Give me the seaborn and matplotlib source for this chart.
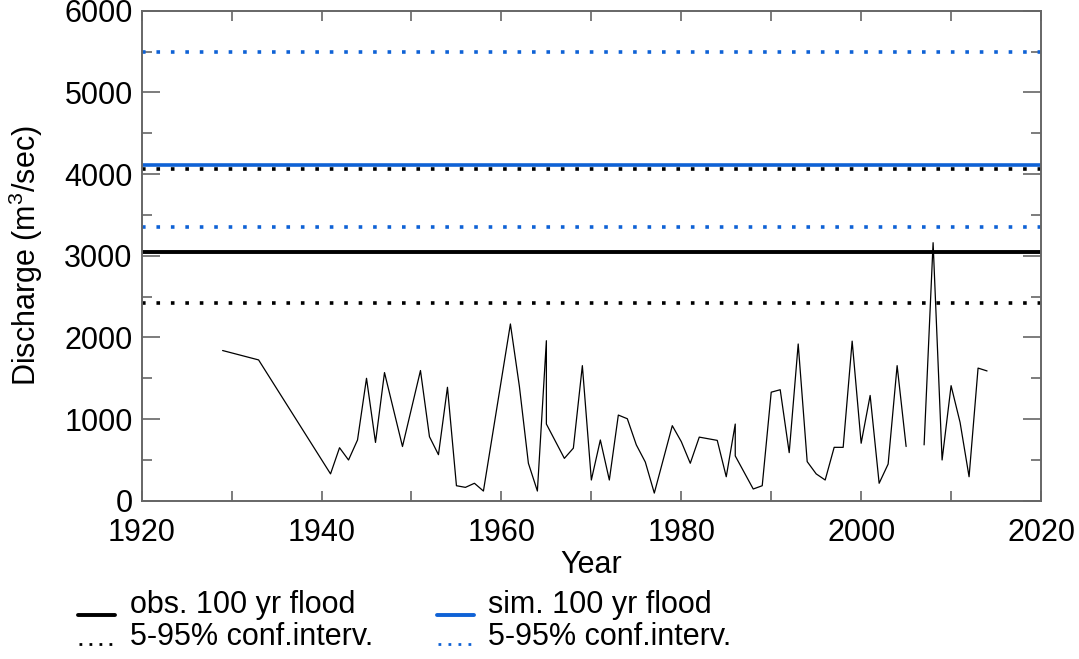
import numpy as np
import pandas as pd
import seaborn as sns
import matplotlib.pyplot as plt
from matplotlib.lines import Line2D

# annual peak discharge (2006 missing -> gap)
years = [1929, 1933, 1941, 1942, 1943, 1944, 1945, 1946, 1947, 1949, 1951, 1952,
         1953, 1954, 1955, 1956, 1957, 1958, 1961, 1962, 1963, 1964, 1965, 1965,
         1967, 1968, 1969, 1970, 1971, 1972, 1973, 1974, 1975, 1976, 1977, 1979,
         1980, 1981, 1982, 1984, 1985, 1986, 1986, 1988, 1989, 1990, 1991, 1992,
         1993, 1994, 1995, 1996, 1997, 1998, 1999, 2000, 2001, 2002, 2003, 2004,
         2005, 2007, 2008, 2009, 2010, 2011, 2012, 2013, 2014]
discharge = [1840, 1725, 330, 650, 500, 745, 1500, 715, 1570, 665, 1595, 785,
             565, 1390, 185, 165, 215, 120, 2165, 1400, 460, 120, 1960, 940,
             520, 645, 1655, 255, 745, 255, 1050, 1005, 685, 475, 95, 920,
             725, 460, 780, 740, 295, 940, 550, 145, 185, 1330, 1360, 590,
             1920, 480, 330, 255, 655, 655, 1955, 705, 1290, 215, 450, 1655,
             665, 685, 3160, 500, 1410, 960, 295, 1625, 1590]
segment = [0] * 61 + [1] * 8

obs_100yr = 3050
obs_ci = [2420, 4060]
sim_100yr = 4110
sim_ci = [3350, 5490]

year_ticks = [1920, 1940, 1960, 1980, 2000, 2020]
q_ticks = [0, 1000, 2000, 3000, 4000, 5000, 6000]

df = pd.DataFrame({'year': years, 'discharge': discharge, 'segment': segment})

sns.set_style('ticks')
plt.rcParams['font.family'] = ['Liberation Sans', 'DejaVu Sans']
plt.rcParams['mathtext.fontset'] = 'custom'
plt.rcParams['mathtext.rm'] = 'Liberation Sans'
plt.rcParams['text.color'] = 'black'
plt.rcParams['axes.labelcolor'] = 'black'
plt.rcParams['xtick.labelcolor'] = 'black'
plt.rcParams['ytick.labelcolor'] = 'black'

fs = 22
blue = '#0f62d6'
dots = (0, (1, 3))
fig = plt.figure(figsize=(10.79, 6.59), dpi=100)
ax = fig.add_axes([0.1313, 0.240, 0.8335, 0.7438])

ax.axhline(obs_100yr, color='black', lw=2.8)
for v in obs_ci:
    ax.axhline(v, color='black', lw=2.6, ls=dots)
ax.axhline(sim_100yr, color=blue, lw=2.6)
for v in sim_ci:
    ax.axhline(v, color=blue, lw=2.6, ls=dots)

sns.lineplot(data=df, x='year', y='discharge', units='segment', estimator=None,
             sort=False, color='black', lw=0.9, ax=ax, legend=False)

ax.set_xlim(1920, 2020)
ax.set_ylim(0, 6000)
ax.set_xticks(year_ticks)
ax.set_yticks(q_ticks)
ax.set_xticks(np.arange(1930, 2020, 20), minor=True)
ax.set_yticks(np.arange(500, 6000, 1000), minor=True)
ax.tick_params(axis='both', which='both', direction='in', top=True, right=True,
               labelsize=fs, color='#666666', width=1.2)
ax.tick_params(axis='y', which='major', length=13, pad=6.5)
ax.tick_params(axis='y', which='minor', length=7)
ax.tick_params(axis='x', which='major', length=7, pad=12)
ax.tick_params(axis='x', which='minor', length=7)
for s in ax.spines.values():
    s.set_color('#666666')
    s.set_linewidth(1.4)

ax.set_xlabel('Year', fontsize=fs)
ax.set_ylabel('Discharge (m$^3$/sec)', fontsize=fs)
ax.xaxis.set_label_coords(0.5, -0.100)
ax.yaxis.set_label_coords(-0.1075, 0.5)

# legend below the plot, handles sit on the text baseline
entries = [('obs. 100 yr flood', 'black', '-', 0.0726, 0.0668, 0.1205, 0.0698),
           ('5-95% conf.interv.', 'black', ':', 0.0726, 0.0222, 0.1205, 0.0212),
           ('sim. 100 yr flood', blue, '-', 0.4050, 0.0668, 0.4523, 0.0698),
           ('5-95% conf.interv.', blue, ':', 0.4050, 0.0222, 0.4523, 0.0212)]
for label, c, ls, hx, hy, tx, ty in entries:
    if ls == '-':
        h = Line2D([hx, hx + 0.034], [hy, hy], transform=fig.transFigure,
                   color=c, lw=2.8)
    else:
        h = Line2D([hx + 0.001, hx + 0.033], [hy, hy], transform=fig.transFigure,
                   color=c, lw=2.0, ls=(0, (1, 2.6)))
    fig.add_artist(h)
    fig.text(tx, ty, label, fontsize=fs, va='baseline', ha='left')

fig.savefig('out.png', dpi=100)
